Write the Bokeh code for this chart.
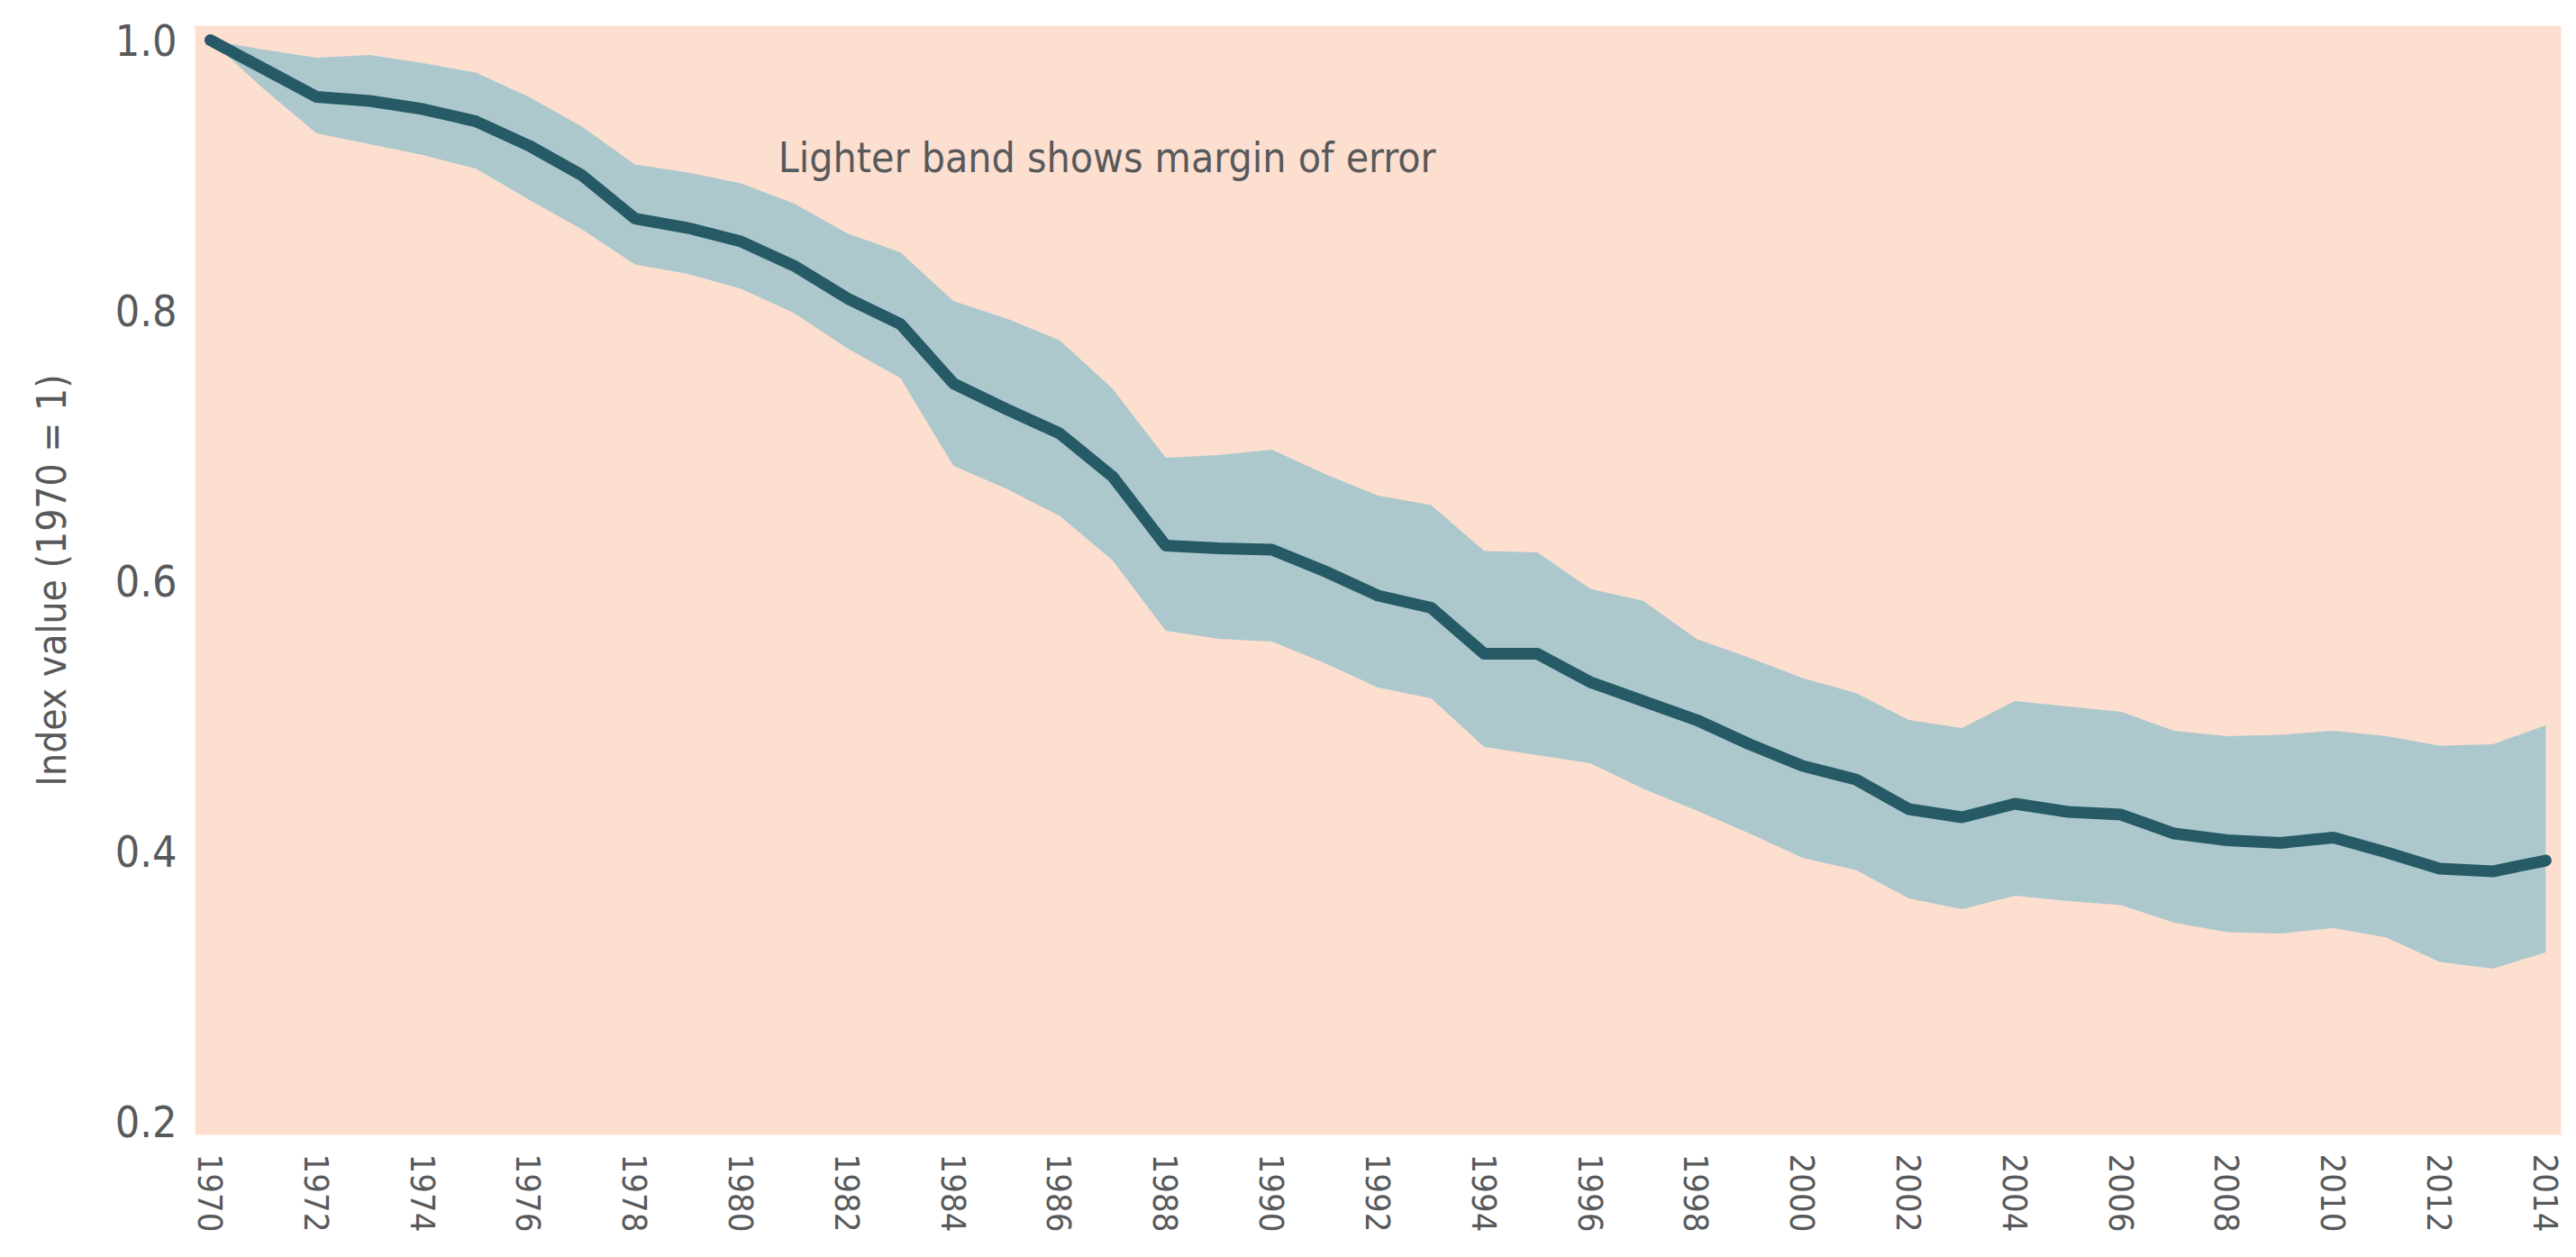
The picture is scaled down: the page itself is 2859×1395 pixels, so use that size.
from bokeh.plotting import figure
from bokeh.models import Label, FixedTicker, Range1d
from bokeh.embed import file_html
from bokeh.resources import INLINE

years = list(range(1970, 2015))
index_value = [1.000, 0.979, 0.958, 0.955, 0.949, 0.940, 0.922, 0.900, 0.868, 0.861,
               0.851, 0.833, 0.809, 0.790, 0.746, 0.727, 0.709, 0.677, 0.626, 0.624,
               0.623, 0.607, 0.589, 0.580, 0.546, 0.546, 0.525, 0.511, 0.497, 0.479,
               0.463, 0.453, 0.431, 0.425, 0.435, 0.429, 0.427, 0.413, 0.408, 0.406,
               0.410, 0.399, 0.387, 0.385, 0.393]
upper_bound = [1.000, 0.993, 0.987, 0.989, 0.983, 0.976, 0.958, 0.936, 0.908, 0.902,
               0.894, 0.879, 0.857, 0.843, 0.807, 0.794, 0.778, 0.742, 0.691, 0.693,
               0.697, 0.679, 0.663, 0.656, 0.622, 0.621, 0.594, 0.585, 0.557, 0.543,
               0.528, 0.517, 0.497, 0.491, 0.511, 0.507, 0.503, 0.489, 0.485, 0.486,
               0.489, 0.485, 0.478, 0.479, 0.493]
lower_bound = [1.000, 0.964, 0.931, 0.923, 0.915, 0.905, 0.882, 0.860, 0.834, 0.827,
               0.816, 0.798, 0.772, 0.750, 0.685, 0.668, 0.648, 0.615, 0.563, 0.557,
               0.555, 0.539, 0.521, 0.513, 0.477, 0.471, 0.465, 0.446, 0.430, 0.413,
               0.395, 0.386, 0.365, 0.357, 0.367, 0.363, 0.360, 0.347, 0.340, 0.339,
               0.343, 0.336, 0.318, 0.313, 0.325]

x_ticks = list(range(1970, 2015, 2))
y_ticks = [0.2, 0.4, 0.6, 0.8, 1.0]
y_tick_labels = ["0.2", "0.4", "0.6", "0.8", "1.0"]
y_axis_title = "Index value (1970 = 1)"
note_text = "Lighter band shows margin of error"

FONT = "'Noto Sans ExtraCondensed', 'Noto Sans Condensed', 'DejaVu Sans Condensed'"
TEXT_COLOR = "#58595b"

p = figure(width=2851, height=1387, output_backend="svg", toolbar_location=None,
           x_range=Range1d(1969.712, 2014.29), y_range=Range1d(0.19, 1.0107),
           min_border_left=216, min_border_top=28, min_border_bottom=128, min_border_right=9)
p.background_fill_color = "#fddfd0"
p.border_fill_color = "white"
p.outline_line_color = None
p.grid.visible = False

p.varea(x=years, y1=lower_bound, y2=upper_bound, fill_color="#acc8cc", fill_alpha=1.0)
p.line(x=years, y=index_value, line_color="#265a66", line_width=13, line_join="round", line_cap="round")

p.xaxis.ticker = FixedTicker(ticks=x_ticks)
p.xaxis.major_label_orientation = "vertical"
p.yaxis.ticker = FixedTicker(ticks=y_ticks)
p.yaxis.major_label_overrides = {t: l for t, l in zip(y_ticks, y_tick_labels)}
p.yaxis.axis_label = y_axis_title

for ax in (p.xaxis[0], p.yaxis[0]):
    ax.axis_line_color = None
    ax.major_tick_line_color = None
    ax.minor_tick_line_color = None
    ax.major_label_text_font = FONT
    ax.major_label_text_color = TEXT_COLOR
    ax.axis_label_text_font = FONT
    ax.axis_label_text_font_size = "44px"
    ax.axis_label_text_color = TEXT_COLOR
    ax.axis_label_text_font_style = "normal"

p.xaxis.major_label_text_font_size = "38px"
p.yaxis.major_label_text_font_size = "48px"
p.xaxis.major_label_standoff = 15
p.yaxis.major_label_standoff = 14
p.yaxis.axis_label_standoff = 42

note = Label(x=1980.7, y=0.9127, text=note_text, text_font=FONT, text_font_size="46px",
             text_color=TEXT_COLOR, text_baseline="alphabetic", text_align="left")
p.add_layout(note)

open("out.html", "w").write(file_html(p, INLINE))
